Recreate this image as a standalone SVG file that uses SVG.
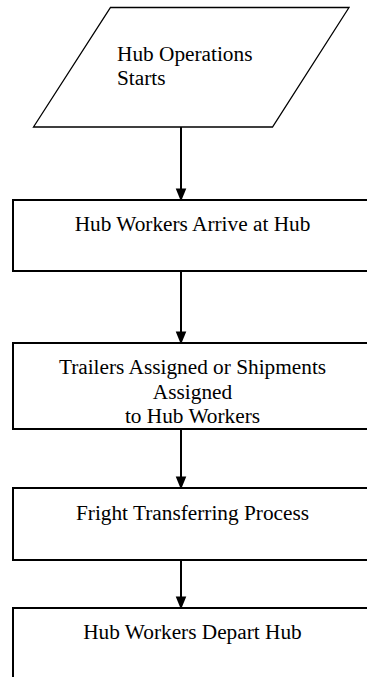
<svg xmlns="http://www.w3.org/2000/svg" width="367" height="677" viewBox="0 0 367 677">
<style>
.box{fill:#fff;stroke:#000;stroke-width:2}
.para{fill:#fff;stroke:#000;stroke-width:1.3}
text{font-family:'Liberation Serif','Times New Roman','DejaVu Serif',serif;font-size:21.3px;fill:#000}
.c{text-anchor:middle}
.edge{stroke:#000;stroke-width:2;fill:none}
</style>
<defs>
<marker id="ah" markerWidth="13" markerHeight="16" refX="13" refY="6.5" orient="auto" markerUnits="userSpaceOnUse" viewBox="0 0 16 13">
<path d="M0,0 L16,6.5 L0,13 Z" fill="#000"/>
</marker>
</defs>
<rect width="367" height="677" fill="#fff"/>
<g id="n1">
<polygon class="para" points="110.5,7.5 349,7.5 272.5,127 33.5,127"/>
<text font-family="Liberation Serif, serif" x="117" y="61">Hub Operations</text>
<text font-family="Liberation Serif, serif" x="117" y="84.5">Starts</text>
</g>
<g id="n2">
<rect class="box" x="13" y="200" width="370" height="71"/>
<text class="c" font-family="Liberation Serif, serif" x="192.5" y="231">Hub Workers Arrive at Hub</text>
</g>
<g id="n3">
<rect class="box" x="13" y="343" width="370" height="86"/>
<text class="c" font-family="Liberation Serif, serif" x="192.5" y="374">Trailers Assigned or Shipments</text>
<text class="c" font-family="Liberation Serif, serif" x="192.5" y="398.5">Assigned</text>
<text class="c" font-family="Liberation Serif, serif" x="192.5" y="423">to Hub Workers</text>
</g>
<g id="n4">
<rect class="box" x="13" y="488" width="370" height="72"/>
<text class="c" font-family="Liberation Serif, serif" x="192.5" y="520">Fright Transferring Process</text>
</g>
<g id="n5">
<rect class="box" x="13" y="608" width="370" height="100"/>
<text class="c" font-family="Liberation Serif, serif" x="192.5" y="639">Hub Workers Depart Hub</text>
</g>
<g id="edges">
<line class="edge" x1="181" y1="127" x2="181" y2="199" marker-end="url(#ah)"/>
<line class="edge" x1="181" y1="271" x2="181" y2="342" marker-end="url(#ah)"/>
<line class="edge" x1="181" y1="429" x2="181" y2="487" marker-end="url(#ah)"/>
<line class="edge" x1="181" y1="560" x2="181" y2="607" marker-end="url(#ah)"/>
</g>
</svg>
